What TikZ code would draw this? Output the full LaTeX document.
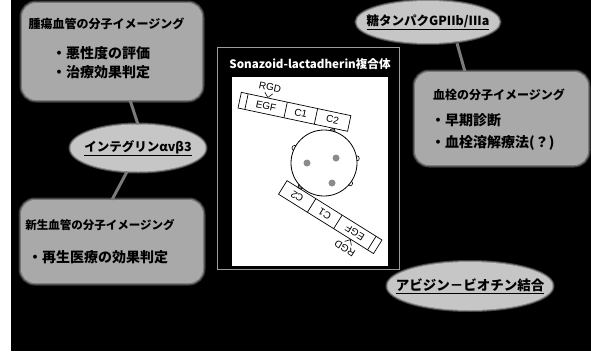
\documentclass[tikz,border=0pt]{standalone}
\usepackage{fontspec}
\setmainfont{Liberation Sans}
\newfontfamily\jp{Noto Sans CJK JP}
\usetikzlibrary{shapes.geometric}

\definecolor{boxgray}{HTML}{A9A9A9}
\definecolor{ovalgray}{HTML}{C6C6C6}
\definecolor{linkgray}{HTML}{7A7A7A}
\definecolor{framegray}{HTML}{9C9C9C}
\definecolor{dotgray}{HTML}{8C8C8C}

\tikzset{
  panel/.style={rounded corners=14pt, fill=boxgray,
    preaction={draw=boxgray!35!black, line width=5pt},
    preaction={draw=boxgray!70!black, line width=2.5pt}},
  oval/.style={ellipse, fill=ovalgray, inner sep=0pt,
    preaction={draw=ovalgray!35!black, line width=4pt},
    preaction={draw=ovalgray!70!black, line width=2pt}},
  link/.style={draw=linkgray, line width=3pt},
  boxhead/.style={inner sep=0pt, font=\jp\bfseries\fontsize{12}{14}\selectfont},
  bullet/.style={inner sep=0pt, anchor=west, font=\jp\bfseries\fontsize{14}{16}\selectfont},
  ovaltext/.style={inner sep=0pt, font=\jp\bfseries\fontsize{12.5}{15}\selectfont},
  dom/.style={inner sep=0pt, font=\fontsize{10}{12}\selectfont},
}

\begin{document}
\begin{tikzpicture}[x=1pt, y=-1pt]
\useasboundingbox (0,0) rectangle (591,351);
\fill[white] (0,0) rectangle (11,351);
\fill[black] (11,0) rectangle (591,351);

% boxes on the left and right
\node[panel, minimum width=180pt, minimum height=97pt] (tumor) at (112,51.5) {};
\node[panel, minimum width=182pt, minimum height=83pt] (neo) at (112,241.5) {};
\node[panel, minimum width=173pt, minimum height=93pt] (thrombus) at (501.5,118.5) {};

\node[boxhead] (tumorhead) at (106.5,24) {腫瘍血管の分子イメージング};
\node[bullet] (tumora) at (52,53) {・悪性度の評価};
\node[bullet] (tumorb) at (52,72) {・治療効果判定};

\node[boxhead, font=\jp\bfseries\fontsize{11.5}{14}\selectfont] (neohead) at (100,225) {新生血管の分子イメージング};
\node[bullet] (neoa) at (28,257) {・再生医療の効果判定};

\node[boxhead] (thrombushead) at (499,95) {血栓の分子イメージング};
\node[bullet] (thrombusa) at (431,120) {・早期診断};
\node[bullet] (thrombusb) at (431,143) {・血栓溶解療法(？)};

% targets
\node[oval, minimum width=135pt, minimum height=47pt] (integrin) at (138,148) {};
\node[ovaltext] (integrintxt) at (integrin) {\underline{インテグリンαvβ3}};
\node[oval, minimum width=143pt, minimum height=42pt] (gp) at (428,22) {};
\node[ovaltext] (gptxt) at (gp) {\underline{糖タンパクGPIIb/IIIa}};
\node[oval, minimum width=165pt, minimum height=48pt] (avidin) at (470,286) {};
\node[ovaltext, font=\jp\bfseries\fontsize{13.5}{16}\selectfont] (avidintxt) at (avidin) {\underline{アビジン－ビオチン結合}};

\draw[link] ([xshift=18pt]tumor.south) -- (integrin.north);
\draw[link] ([xshift=-11pt]integrin.south) -- (neo.north);
\draw[link] ([xshift=29pt]gp.south) -- ([xshift=-36.5pt]thrombus.north);

% the complex panel
\node[draw=framegray, line width=0.8pt, minimum width=182pt, minimum height=222pt] (complex) at (308,158) {};
\fill[white] (232,77) rectangle (388,266);
\node[inner sep=0pt, text=white, font=\jp\bfseries\fontsize{11.6}{13}\selectfont] (complextitle) at (310,64) {Sonazoid-lactadherin複合体};

% lactadherin chains
\foreach \sx/\sy/\ang/\k in {238/108/-12/a, 382/240/148/b} {
  \begin{scope}[shift={(\sx,\sy)}, rotate=\ang, transform shape]
    \draw[fill=white, line width=0.7pt] (0,0) rectangle (112,-16);
    \draw[line width=0.7pt] (7,0) -- (7,-16) (47,0) -- (47,-16) (78,0) -- (78,-16);
    \node[dom] (egf\k) at (27,-8) {EGF};
    \node[dom] (cone\k) at (62.5,-8) {C1};
    \node[dom] (ctwo\k) at (95,-8) {C2};
    \draw[line width=0.6pt] (23,-21) -- (27,-16.5) -- (31,-21);
    \node[dom] (rgd\k) at (27,-27) {RGD};
  \end{scope}
}

% microbubble
\begin{scope}[shift={(324,163)}]
  \foreach \a in {-153,-8,38}
    \draw[fill=white, line width=0.6pt] (\a:33) circle (2.6);
  \foreach \a in {-75,135}
    \draw[fill=dotgray, line width=0.6pt] (\a:33) circle (2.6);
\end{scope}
\node[draw, circle, fill=white, line width=0.8pt, minimum size=66pt] (bubble) at (324,163) {};
\fill[dotgray] (307,163) circle (3.5);
\fill[dotgray] (336,158) circle (3.5);
\fill[dotgray] (332,183) circle (3.5);

\end{tikzpicture}
\end{document}
